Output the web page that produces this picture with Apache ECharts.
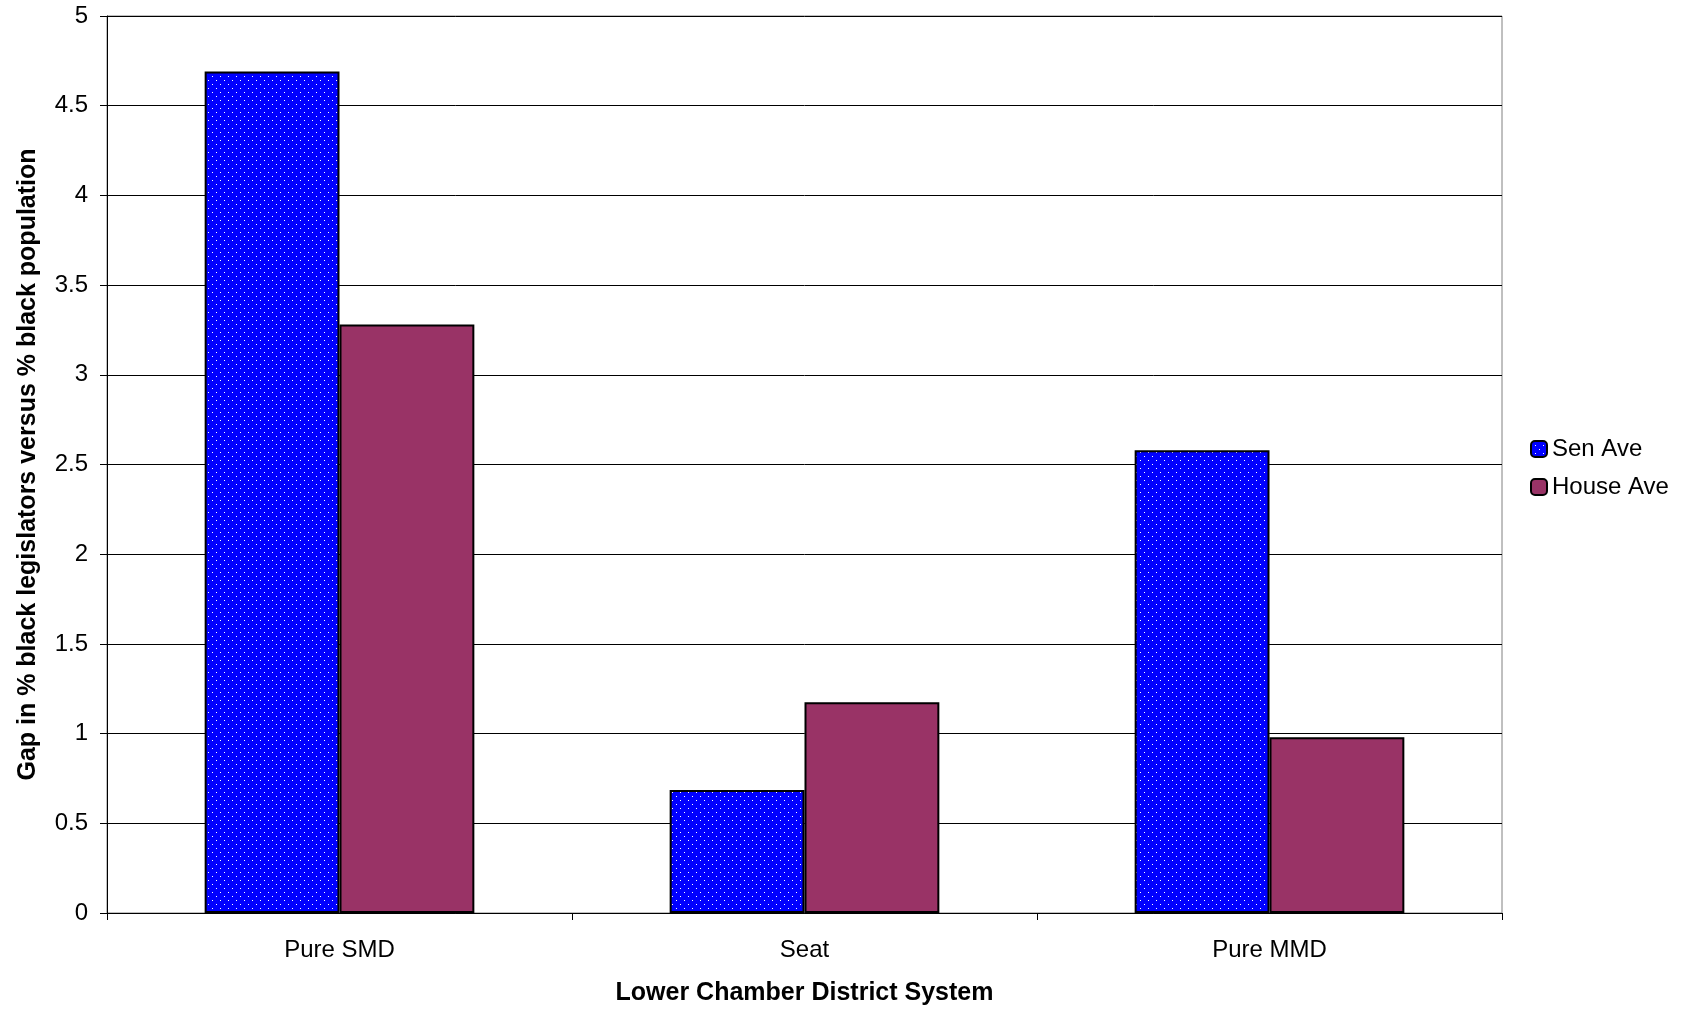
<!DOCTYPE html>
<html><head><meta charset="utf-8">
<script src="https://cdn.jsdelivr.net/npm/echarts@6/dist/echarts.min.js"></script>
<style>html,body{margin:0;padding:0;background:#fff}#c{width:1692px;height:1011px}</style>
</head><body><div id="c"></div>
<script>
const categories = ['Pure SMD', 'Seat', 'Pure MMD'];
const senAve = [4.69, 0.685, 2.58];
const houseAve = [3.28, 1.175, 0.98];
const yTicks = [0, 0.5, 1, 1.5, 2, 2.5, 3, 3.5, 4, 4.5, 5];

const cv = document.createElement('canvas');
cv.width = 8; cv.height = 8;
const cx = cv.getContext('2d');
cx.fillStyle = '#0000ff'; cx.fillRect(0, 0, 8, 8);
cx.fillStyle = '#ffffff'; cx.fillRect(0, 0, 1, 1); cx.fillRect(4, 4, 1, 1);

const font = '"Liberation Sans", Arial, sans-serif';
const chart = echarts.init(document.getElementById('c'));
chart.setOption({
  animation: false,
  backgroundColor: '#fff',
  grid: { left: 107, right: 190, top: 16, bottom: 93, show: true, borderColor: '#808080', borderWidth: 1 },
  legend: {
    orient: 'vertical', left: 1525, top: 432, itemWidth: 16, itemHeight: 16, itemGap: 14,
    textStyle: { fontFamily: font, fontSize: 24, color: '#000' },
    data: ['Sen Ave', 'House Ave']
  },
  xAxis: {
    type: 'category', data: categories,
    name: 'Lower Chamber District System', nameLocation: 'middle', nameGap: 68,
    nameTextStyle: { fontFamily: font, fontSize: 25, fontWeight: 'bold', color: '#000' },
    axisLine: { lineStyle: { color: '#000', width: 1 } },
    axisTick: { show: true, length: 7, lineStyle: { color: '#000' } },
    axisLabel: { fontFamily: font, fontSize: 24, color: '#000', margin: 25 }
  },
  yAxis: {
    type: 'value', min: 0, max: 5, interval: 0.5,
    name: 'Gap in % black legislators versus % black population', nameLocation: 'middle', nameGap: 66,
    nameTextStyle: { fontFamily: font, fontSize: 25, fontWeight: 'bold', color: '#000' },
    axisLine: { show: true, lineStyle: { color: '#000', width: 1 } },
    axisTick: { show: true, length: 7, lineStyle: { color: '#000' } },
    axisLabel: { fontFamily: font, fontSize: 24, color: '#000', margin: 19,
      formatter: v => yTicks.indexOf(v) >= 0 ? String(v) : '' },
    splitLine: { show: true, lineStyle: { color: '#000', width: 1 } }
  },
  series: [
    { name: 'Sen Ave', type: 'bar', data: senAve, barGap: '0%', barCategoryGap: '42%',
      itemStyle: { color: { image: cv, repeat: 'repeat' }, borderColor: '#000', borderWidth: 2 } },
    { name: 'House Ave', type: 'bar', data: houseAve,
      itemStyle: { color: '#993366', borderColor: '#000', borderWidth: 2 } }
  ]
});
</script></body></html>
